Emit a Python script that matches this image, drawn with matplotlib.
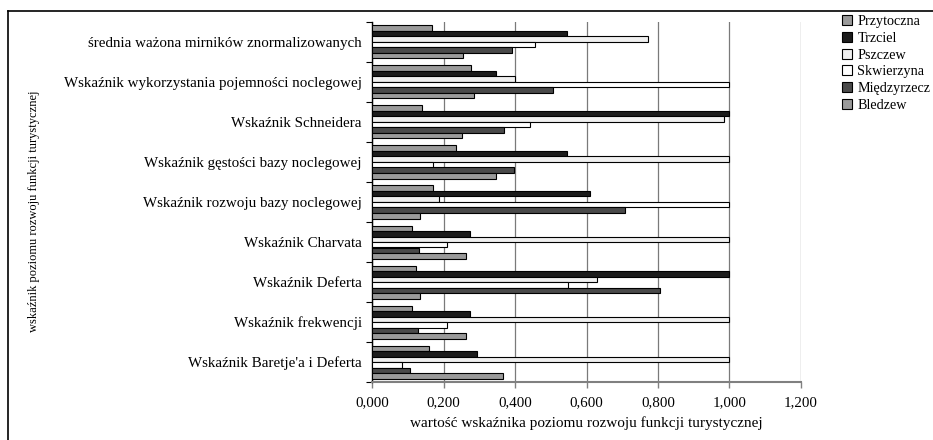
import matplotlib
matplotlib.use("Agg")
import matplotlib.pyplot as plt
from matplotlib.ticker import FuncFormatter, MultipleLocator, FixedLocator
from matplotlib.lines import Line2D
import numpy as np

categories = [
    "średnia ważona mirników znormalizowanych",
    "Wskaźnik wykorzystania pojemności noclegowej",
    "Wskaźnik Schneidera",
    "Wskaźnik gęstości bazy noclegowej",
    "Wskaźnik rozwoju bazy noclegowej",
    "Wskaźnik Charvata",
    "Wskaźnik Deferta",
    "Wskaźnik frekwencji",
    "Wskaźnik Baretje'a i Deferta",
]
series_names = ["Przytoczna", "Trzciel", "Pszczew", "Skwierzyna", "Międzyrzecz", "Bledzew"]

przytoczna = [0.167, 0.277, 0.140, 0.235, 0.171, 0.110, 0.122, 0.110, 0.160]
trzciel = [0.545, 0.347, 1.000, 0.545, 0.609, 0.275, 1.000, 0.275, 0.293]
pszczew = [0.773, 0.400, 0.986, 1.000, 0.187, 1.000, 0.629, 1.000, 1.000]
skwierzyna = [0.457, 1.000, 0.442, 0.171, 1.000, 0.210, 0.548, 0.210, 0.084]
miedzyrzecz = [0.392, 0.505, 0.369, 0.396, 0.708, 0.130, 0.807, 0.127, 0.107]
bledzew = [0.255, 0.286, 0.251, 0.347, 0.133, 0.262, 0.133, 0.262, 0.365]

series_values = [przytoczna, trzciel, pszczew, skwierzyna, miedzyrzecz, bledzew]
colors = ["#9a9a9a", "#1c1c1c", "#f0f0f0", "#ffffff", "#4a4a4a", "#9a9a9a"]

plt.rcParams["font.family"] = ["Liberation Serif", "DejaVu Serif"]

W, H = 933, 440
fig = plt.figure(figsize=(W / 100, H / 100), dpi=100)
ax = fig.add_axes([372.3 / W, 1 - 382 / H, (800.7 - 372.3) / W, (382 - 22) / H])

n_cat = len(categories)
n_ser = len(series_values)
bar_h = 0.1375
y = np.arange(n_cat)
handles = []
for j, (vals, col, name) in enumerate(zip(series_values, colors, series_names)):
    offs = (j - (n_ser - 1) / 2) * bar_h
    b = ax.barh(y + offs, vals, height=bar_h, color=col, edgecolor="black",
                linewidth=0.8, label=name, zorder=3)
    handles.append(b)

ax.set_xlim(0, 1.2)
ax.set_ylim(n_cat - 0.5, -0.5)
ax.xaxis.set_major_locator(MultipleLocator(0.2))
ax.xaxis.set_major_formatter(FuncFormatter(lambda v, p: f"{v:.3f}".replace(".", ",")))

ax.set_yticks(y)
ax.set_yticklabels(categories, fontsize=10.8)
ax.yaxis.set_minor_locator(FixedLocator(np.arange(-0.5, n_cat, 1.0)))
ax.tick_params(axis="y", which="major", length=0, pad=7.5)
ax.tick_params(axis="y", which="minor", length=4, width=0.8, color="black", direction="out")
ax.tick_params(axis="x", which="major", length=4, width=1.0, color="#808080",
               direction="out", labelsize=10.8, pad=6)

ax.grid(axis="x", color="#7a7a7a", linewidth=0.9, zorder=0)
gl = ax.xaxis.get_gridlines()
gl[-1].set_color("#e0e0e0")
gl[0].set_visible(False)
ax.set_axisbelow(True)

for s in ["top", "right"]:
    ax.spines[s].set_visible(False)
ax.spines["left"].set_color("black")
ax.spines["left"].set_linewidth(1.0)
ax.spines["bottom"].set_color("#808080")
ax.spines["bottom"].set_linewidth(1.5)

ax.set_xlabel("wartość wskaźnika poziomu rozwoju funkcji turystycznej", fontsize=11, labelpad=5)
fig.text(34 / W, 1 - 211 / H, "wskaźnik poziomu rozwoju funkcji turystycznej",
         rotation=90, ha="center", va="center", fontsize=9)

fig.legend(handles=handles, labels=series_names, loc="upper left",
           bbox_to_anchor=(836 / W, 1 - 9.5 / H), frameon=False, fontsize=10.2,
           handlelength=0.7, handleheight=0.7, handletextpad=0.4, labelspacing=0.26,
           borderaxespad=0)

fig.add_artist(Line2D([8 / W, 8 / W], [1 - 11 / H, 0], transform=fig.transFigure,
                      color="black", linewidth=1.2))
fig.add_artist(Line2D([8 / W, 1], [1 - 11 / H, 1 - 11 / H], transform=fig.transFigure,
                      color="black", linewidth=1.2))

fig.savefig("out.png", dpi=100, facecolor="white")
